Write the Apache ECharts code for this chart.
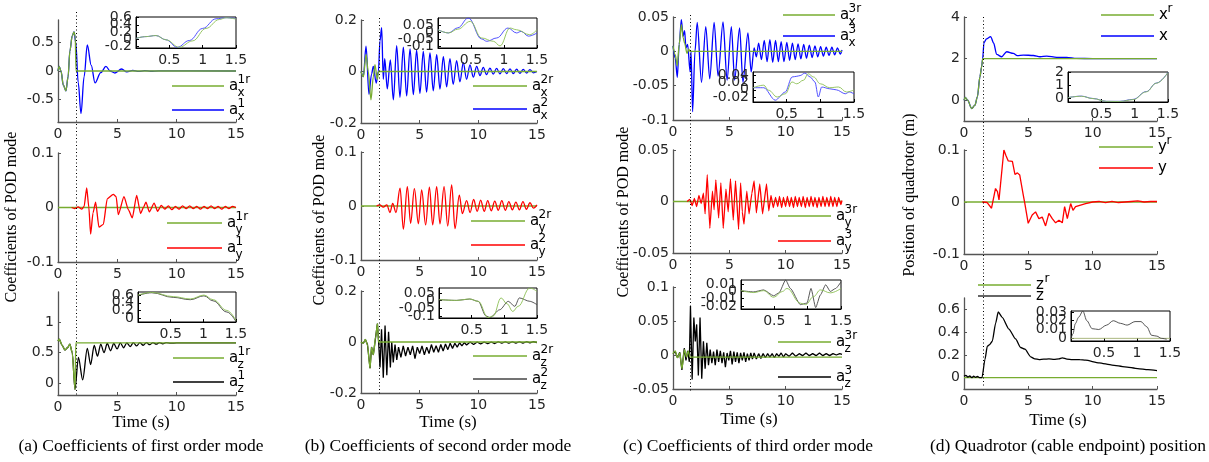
<!DOCTYPE html>
<html><head><meta charset="utf-8">
<script src="https://cdn.jsdelivr.net/npm/echarts@6/dist/echarts.min.js"></script>
<style>html,body{margin:0;padding:0;background:#fff}#c{width:1209px;height:462px}</style>
</head><body><div id="c"></div>
<script>
// ---------- tick labels ----------
const tTicks = [0, 5, 10, 15];
const insetTTicks = [0.5, 1, 1.5];
const yTicksA1 = [-0.5, 0, 0.5], yTicksA2 = [-0.1, 0, 0.1], yTicksA3 = [0, 0.5, 1];
const yTicksB1 = [-0.2, 0, 0.2], yTicksB2 = [-0.1, 0, 0.1], yTicksB3 = [-0.2, 0, 0.2];
const yTicksC1 = [-0.1, -0.05, 0, 0.05], yTicksC2 = [-0.05, 0, 0.05], yTicksC3 = [-0.05, 0, 0.05, 0.1];
const yTicksD1 = [0, 2, 4], yTicksD2 = [-0.1, 0, 0.1], yTicksD3 = [0, 0.2, 0.4, 0.6];
const yTicksA1in = [-0.2, 0, 0.2, 0.4, 0.6], yTicksA3in = [0, 0.2, 0.4, 0.6];
const yTicksB1in = [-0.1, -0.05, 0, 0.05], yTicksB3in = [-0.1, -0.05, 0, 0.05];
const yTicksC1in = [-0.02, 0, 0.02, 0.04], yTicksC3in = [-0.02, -0.01, 0, 0.01];
const yTicksD1in = [0, 1, 2], yTicksD3in = [0, 0.01, 0.02, 0.03];

// ---------- (a) first order mode ----------
const ax1r = [[0,0],[0.1,0.08],[0.25,0.0],[0.45,-0.25],[0.67,-0.35],[0.85,-0.1],[1.0,0.35],[1.2,0.62],[1.35,0.69],[1.45,0.6],[1.52,0],[15,0]];
const ax1 = [[0,0],[0.1,0.08],[0.25,0.0],[0.45,-0.25],[0.67,-0.35],[0.85,-0.1],[1.0,0.35],[1.2,0.62],[1.35,0.69],[1.5,0.5],[1.7,-0.2],[1.94,-0.75],[2.2,-0.1],[2.47,0.46],[2.8,0.1],[3.12,-0.21],[3.6,-0.03],[4.04,0.08],[4.4,0.0],[4.8,-0.035],[5.36,0.035],[5.8,-0.015],[6.3,0.012],[6.8,-0.008],[7.3,0.006],[7.8,-0.004],[8.5,0.002],[15,0]];
const ax1rIn = [[0,0.02],[0.15,0.07],[0.3,0.1],[0.45,-0.02],[0.65,-0.23],[0.85,-0.05],[1.05,0.3],[1.25,0.55],[1.35,0.6],[1.5,0.56]];
const ax1In = [[0,0.02],[0.15,0.07],[0.3,0.1],[0.45,-0.02],[0.62,-0.23],[0.8,-0.04],[1.0,0.3],[1.2,0.57],[1.35,0.6],[1.5,0.58]];
const ay1r = [[0,0],[15,0]];
const ay1 = [[1.15,0],[1.4,-0.002],[1.7,0.001],[2.0,-0.003],[2.2,0.002],[2.42,0.036],[2.6,0.0],[2.75,-0.049],[2.95,-0.01],[3.17,0.01],[3.45,-0.036],[3.82,-0.031],[4.15,0.016],[4.66,0.024],[4.9,0.02],[5.08,-0.013],[5.56,0.02],[5.93,-0.004],[6.26,-0.019],[6.63,0.022],[6.96,-0.011],[7.2,0.0],[7.41,0.01],[7.7,-0.008],[8.1,0.008],[8.4,-0.007],[8.7,0.004],[9.0,-0.003],[9.3,0.003],[9.6,-0.004],[9.9,0.002],[10.2,-0.003],[10.5,0.003],[10.8,-0.002],[11.1,0.003],[11.4,-0.002],[11.7,0.002],[12.0,-0.003],[12.3,0.002],[12.6,-0.002],[12.9,0.003],[13.2,-0.002],[13.5,0.002],[13.8,-0.003],[14.1,0.002],[14.4,-0.002],[14.7,0.002],[15,0]];
const az1r = [[0,0.69],[0.1,0.72],[0.35,0.62],[0.59,0.54],[0.8,0.58],[1.0,0.64],[1.2,0.5],[1.43,-0.11],[1.5,0.66],[15,0.66]];
const az1 = [[0,0.69],[0.1,0.72],[0.35,0.62],[0.59,0.54],[0.8,0.58],[1.0,0.64],[1.2,0.5],[1.43,-0.11],[1.72,0.42],[2.08,0.05],[2.47,0.57],[2.75,0.3],[3.05,0.62],[3.33,0.44],[3.6,0.64],[3.88,0.5],[4.15,0.65],[4.43,0.53],[4.7,0.65],[4.98,0.56],[5.25,0.66],[5.53,0.58],[5.8,0.66],[6.08,0.6],[6.35,0.665],[6.63,0.61],[6.9,0.665],[7.18,0.62],[7.45,0.665],[7.73,0.63],[8.0,0.665],[8.28,0.64],[8.55,0.665],[8.83,0.645],[9.1,0.665],[9.5,0.655],[10,0.66],[15,0.66]];
const az1rIn = [[0,0.6],[0.21,0.67],[0.54,0.56],[0.8,0.5],[1.01,0.6],[1.15,0.48],[1.36,0.2],[1.5,-0.06]];
const az1In = [[0,0.59],[0.21,0.66],[0.54,0.54],[0.8,0.48],[1.01,0.58],[1.15,0.45],[1.36,0.16],[1.5,-0.09]];

// ---------- (b) second order mode ----------
const bx2r = [[0,0],[0.2,-0.02],[0.43,0.066],[0.62,0.0],[0.85,-0.11],[1.05,-0.02],[1.19,0.027],[1.39,-0.03],[1.5,0],[15,0]];
const bx2 = [[0,0],[0.2,-0.02],[0.43,0.098],[0.68,-0.089],[0.9,-0.01],[1.05,0.02],[1.3,-0.045],[1.48,0],[1.62,0.12],[1.76,0.17],[1.9,-0.03],[2.02,0.05],[2.24,-0.067],[2.5,0.045],[2.76,-0.11],[3.04,0.1],[3.32,-0.1],[3.61,0.095],[3.89,-0.095],[4.18,0.088],[4.46,-0.09],[4.74,0.083],[5.02,-0.085],[5.31,0.078],[5.59,-0.08],[5.88,0.072],[6.16,-0.075],[6.45,0.065],[6.73,-0.068],[7.02,0.058],[7.3,-0.06],[7.58,0.05],[7.86,-0.05],[8.15,0.042],[8.43,-0.04],[8.72,0.034],[9.0,-0.03],[9.29,0.026],[9.57,-0.022],[9.86,0.02],[10.14,-0.016],[10.42,0.016],[10.7,-0.012],[10.99,0.013],[11.27,-0.01],[11.56,0.012],[11.84,-0.009],[12.13,0.011],[12.41,-0.008],[12.7,0.01],[12.98,-0.008],[13.26,0.009],[13.54,-0.007],[13.83,0.008],[14.11,-0.006],[14.4,0.007],[14.68,-0.005],[15,0]];
const bx2rIn = [[0,0.016],[0.16,-0.007],[0.3,0.02],[0.49,0.076],[0.66,-0.043],[0.84,-0.067],[0.94,-0.1],[1.09,0.028],[1.19,0.016],[1.39,-0.02],[1.5,0.016]];
const bx2In = [[0,0.016],[0.16,-0.007],[0.3,0.03],[0.46,0.1],[0.66,-0.05],[0.74,-0.067],[0.89,-0.043],[1.06,0.028],[1.19,-0.007],[1.26,0.004],[1.37,-0.03],[1.5,-0.007]];
const by2r = [[0,0],[15,0]];
const by2 = [[1.33,0],[1.6,0.002],[1.9,-0.002],[2.2,0.002],[2.47,-0.012],[2.7,0.005],[2.98,-0.012],[3.33,0.033],[3.61,-0.043],[3.95,0.036],[4.23,-0.032],[4.55,0.032],[4.89,-0.033],[5.17,0.03],[5.51,-0.035],[5.83,0.035],[6.11,-0.035],[6.45,0.036],[6.73,-0.033],[7.08,0.036],[7.39,-0.037],[7.73,0.039],[8.01,-0.042],[8.38,0.02],[8.64,-0.014],[9.0,0.01],[9.3,-0.012],[9.6,0.012],[9.9,-0.01],[10.2,0.011],[10.5,-0.01],[10.8,0.01],[11.1,-0.009],[11.4,0.009],[11.7,-0.008],[12.0,0.01],[12.3,-0.008],[12.6,0.008],[12.9,-0.007],[13.2,0.007],[13.5,-0.007],[13.8,0.008],[14.1,-0.006],[14.4,0.006],[14.7,-0.004],[15,0.002]];
const bz2r = [[0,0],[0.2,-0.005],[0.37,0.01],[0.55,-0.01],[0.77,-0.103],[0.9,-0.02],[1.05,-0.05],[1.25,0.02],[1.4,0.072],[1.5,0],[15,0]];
const bz2 = [[0,0],[0.2,-0.005],[0.37,0.01],[0.55,-0.01],[0.77,-0.103],[0.9,-0.02],[1.05,-0.05],[1.25,0.02],[1.4,0.072],[1.5,0.0],[1.62,-0.1],[1.75,0.05],[1.9,-0.14],[2.05,0.065],[2.2,-0.13],[2.35,0.04],[2.5,-0.1],[2.62,0.0],[2.75,-0.08],[2.9,-0.01],[3.05,-0.07],[3.2,-0.02],[3.4,-0.06],[3.6,-0.015],[3.8,-0.055],[4.0,-0.02],[4.2,-0.05],[4.4,-0.015],[4.6,-0.065],[4.8,-0.02],[5.0,-0.045],[5.2,-0.015],[5.4,-0.05],[5.6,-0.02],[5.8,-0.045],[6.0,-0.01],[6.2,-0.04],[6.4,-0.015],[6.6,-0.04],[6.8,-0.01],[7.0,-0.035],[7.2,-0.008],[7.4,-0.03],[7.6,-0.005],[7.8,-0.025],[8.0,-0.005],[8.2,-0.02],[8.4,-0.003],[8.6,-0.015],[8.8,-0.002],[9.0,-0.012],[9.3,0.0],[9.6,-0.01],[9.9,0.0],[10.2,-0.008],[10.5,0.0],[10.8,-0.007],[11.1,0.0],[11.4,-0.006],[11.7,0.001],[12.0,-0.005],[12.3,0.001],[12.6,-0.005],[12.9,0.001],[13.2,-0.004],[13.5,0.001],[13.8,-0.004],[14.1,0.001],[14.4,-0.003],[14.7,0.001],[15,-0.002]];
const bz2rIn = [[0,0.007],[0.27,0.002],[0.47,0.011],[0.6,-0.004],[0.75,-0.11],[0.83,-0.1],[0.95,0.018],[1.04,-0.02],[1.13,-0.07],[1.21,-0.037],[1.39,0.083],[1.5,0.06]];
const bz2In = [[0,0.007],[0.27,0.002],[0.47,0.011],[0.6,-0.004],[0.72,-0.1],[0.78,-0.11],[0.93,-0.059],[1.06,-0.004],[1.16,-0.037],[1.23,0.018],[1.39,-0.004],[1.5,-0.026]];

// ---------- (c) third order mode ----------
const cx3r = [[0,0.008],[0.2,-0.005],[0.38,-0.021],[0.55,0.01],[0.74,0.039],[0.9,0.02],[1.03,0.012],[1.24,-0.003],[1.4,0.003],[1.5,0],[15,0]];
const cx3 = [[0,0.008],[0.2,-0.01],[0.38,-0.038],[0.55,0.01],[0.74,0.046],[0.9,0.022],[1.03,0.03],[1.15,0.005],[1.3,0.01],[1.52,-0.03],[1.6,0.0],[1.74,-0.088],[1.95,0.0],[2.15,0.042],[2.53,-0.045],[2.91,0.036],[3.26,-0.04],[3.65,0.042],[4.0,-0.036],[4.44,0.043],[4.8,-0.042],[5.18,0.036],[5.47,-0.042],[5.91,0.034],[6.21,-0.045],[6.65,0.027],[6.94,-0.03],[7.2,0.005],[7.4,-0.008],[7.6,0.012],[7.85,-0.012],[8.1,0.016],[8.35,-0.015],[8.6,0.017],[8.85,-0.016],[9.1,0.016],[9.35,-0.015],[9.6,0.014],[9.85,-0.015],[10.1,0.013],[10.35,-0.013],[10.6,0.012],[10.85,-0.012],[11.1,0.011],[11.35,-0.011],[11.6,0.01],[11.85,-0.01],[12.1,0.009],[12.35,-0.009],[12.6,0.008],[12.85,-0.008],[13.1,0.007],[13.35,-0.007],[13.6,0.006],[13.85,-0.006],[14.1,0.006],[14.35,-0.005],[14.6,0.005],[14.85,-0.004],[15,0.002]];
const cx3rIn = [[0,0.006],[0.16,0.013],[0.23,-0.001],[0.36,-0.02],[0.48,-0.011],[0.58,0.022],[0.65,0.017],[0.75,0.027],[0.82,0.045],[0.9,0.036],[1.0,0.017],[1.14,0.006],[1.27,0.008],[1.39,-0.006],[1.5,0.0]];
const cx3In = [[0,0.006],[0.16,0.006],[0.33,-0.029],[0.48,-0.006],[0.58,0.036],[0.65,0.038],[0.7,0.04],[0.77,0.047],[0.85,0.036],[0.92,0.022],[0.97,-0.02],[1.02,0.008],[1.14,0.003],[1.24,0.0],[1.37,-0.011],[1.43,-0.006],[1.5,-0.011]];
const cy3r = [[0,0],[15,0]];
const cy3 = [[1.25,0],[1.5,0.002],[1.7,-0.004],[1.9,0.003],[2.1,-0.005],[2.3,0.006],[2.5,-0.002],[2.7,0.008],[2.85,-0.012],[3.04,0.026],[3.27,-0.026],[3.5,0.01],[3.65,-0.008],[3.8,0.021],[4.05,-0.016],[4.25,0.018],[4.46,-0.026],[4.7,0.012],[4.9,-0.01],[5.1,0.022],[5.35,-0.018],[5.55,0.02],[5.82,-0.027],[6.0,0.018],[6.15,-0.01],[6.3,-0.022],[6.55,0.01],[6.75,-0.012],[7.0,0.008],[7.2,0.02],[7.4,-0.011],[7.7,0.017],[7.95,-0.012],[8.3,0.017],[8.5,-0.009],[8.7,0.006],[8.9,-0.006],[9.1,0.004],[9.3,-0.005],[9.45,0.005],[9.65,-0.006],[9.8,0.004],[10.0,-0.005],[10.15,0.005],[10.35,-0.005],[10.5,0.004],[10.7,-0.006],[10.85,0.005],[11.05,-0.005],[11.2,0.004],[11.4,-0.005],[11.55,0.005],[11.75,-0.006],[11.9,0.004],[12.1,-0.005],[12.25,0.005],[12.45,-0.005],[12.6,0.004],[12.8,-0.006],[12.95,0.004],[13.15,-0.005],[13.3,0.005],[13.5,-0.005],[13.65,0.004],[13.85,-0.005],[14.0,0.005],[14.2,-0.005],[14.35,0.004],[14.55,-0.005],[14.7,0.004],[14.9,-0.003],[15,0.001]];
const cz3r = [[0,0.002],[0.2,0.006],[0.4,-0.004],[0.6,0.003],[0.79,-0.02],[1.02,0.008],[1.2,-0.003],[1.35,0.006],[1.5,-0.003],[15,-0.003]];
const cz3 = [[0,0.002],[0.2,0.005],[0.4,-0.004],[0.6,0.004],[0.79,-0.022],[1.0,0.01],[1.15,-0.008],[1.3,0.006],[1.45,-0.01],[1.55,0.072],[1.7,-0.036],[1.85,0.055],[1.98,0.02],[2.1,0.045],[2.25,-0.03],[2.4,0.055],[2.55,-0.035],[2.7,0.02],[2.85,-0.02],[3.0,0.018],[3.15,-0.015],[3.3,0.008],[3.45,-0.012],[3.6,0.005],[3.75,-0.015],[3.9,0.008],[4.05,-0.01],[4.2,0.006],[4.35,-0.012],[4.5,0.004],[4.65,-0.018],[4.8,0.003],[4.95,-0.008],[5.1,0.006],[5.25,-0.014],[5.4,0.005],[5.55,-0.01],[5.7,0.004],[5.85,-0.012],[6.0,0.003],[6.15,-0.008],[6.3,0.004],[6.45,-0.01],[6.6,0.002],[6.75,-0.008],[6.9,0.003],[7.05,-0.006],[7.2,0.003],[7.4,-0.006],[7.6,0.002],[7.8,-0.005],[8.0,0.002],[8.2,-0.004],[8.4,0.002],[8.6,-0.003],[8.8,0.002],[9.0,-0.004],[9.2,0.002],[9.4,-0.002],[9.6,0.003],[9.8,-0.003],[10.0,0.002],[10.3,-0.002],[10.6,0.003],[10.9,-0.002],[11.2,0.002],[11.5,-0.001],[11.8,0.003],[12.1,-0.001],[12.4,0.002],[12.7,-0.001],[13.0,0.003],[13.3,-0.001],[13.6,0.002],[13.9,-0.001],[14.2,0.002],[14.5,0.0],[14.8,0.002],[15,0.001]];
const cz3rIn = [[0,0.0011],[0.19,-0.0016],[0.34,0.001],[0.49,-0.008],[0.62,-0.0002],[0.69,0.004],[0.89,-0.016],[0.97,-0.018],[1.09,-0.007],[1.19,0.002],[1.34,-0.002],[1.5,0.004]];
const cz3In = [[0,0.001],[0.19,-0.0007],[0.34,0.002],[0.49,-0.006],[0.57,-0.002],[0.67,0.0155],[0.74,0.004],[0.89,-0.018],[0.99,-0.016],[1.05,0.004],[1.12,-0.022],[1.19,-0.005],[1.27,0.009],[1.34,0.0],[1.42,0.004],[1.5,0.013]];

// ---------- (d) quadrotor position ----------
const posXr = [[0,0],[0.1,0.13],[0.28,0],[0.6,-0.4],[0.85,-0.24],[1.04,0.16],[1.24,1.13],[1.37,1.6],[1.45,1.98],[1.5,2],[15,2]];
const posX = [[0,0],[0.1,0.13],[0.28,0],[0.6,-0.4],[0.85,-0.24],[1.04,0.16],[1.24,1.13],[1.37,1.6],[1.45,2.0],[1.55,2.76],[1.75,2.95],[2.07,3.06],[2.3,2.75],[2.54,2.2],[2.93,2.09],[3.32,2.33],[3.83,2.25],[4.14,2.14],[4.61,2.17],[5.39,2.15],[5.91,2.09],[6.43,2.12],[7.2,2.06],[7.98,2.06],[8.75,2.01],[10,2.0],[15,2.0]];
const posXrIn = [[0,0.04],[0.2,0.14],[0.375,-0.04],[0.575,-0.25],[0.775,-0.26],[0.975,-0.12],[1.175,0.48],[1.325,1.14],[1.5,1.97]];
const posXIn = [[0,0.04],[0.2,0.15],[0.375,-0.03],[0.575,-0.25],[0.775,-0.25],[0.975,-0.1],[1.175,0.5],[1.325,1.15],[1.5,1.98]];
const posYr = [[0,0],[15,0]];
const posY = [[1.42,0],[1.8,-0.001],[2.14,-0.012],[2.45,0.026],[2.6,0.02],[2.72,0.004],[3.1,0.1],[3.25,0.09],[3.44,0.079],[3.76,0.078],[3.96,0.053],[4.15,0.056],[4.33,0.052],[4.6,0.014],[4.73,-0.003],[4.99,-0.041],[5.3,-0.025],[5.56,-0.019],[5.82,-0.032],[6.08,-0.029],[6.34,-0.046],[6.6,-0.022],[6.86,-0.032],[7.12,-0.04],[7.38,-0.035],[7.64,-0.04],[7.82,-0.009],[8.03,-0.032],[8.29,-0.003],[8.47,-0.016],[8.67,-0.009],[9.06,-0.006],[9.45,-0.003],[10,0.0],[10.5,0.001],[11,-0.001],[11.5,0.001],[12,-0.001],[12.5,0.0],[13,0.001],[13.5,0.002],[14,0.0],[14.5,0.001],[15,0.001]];
const posZr = [[0,0],[15,0]];
const posZ = [[0,0.012],[0.15,0.02],[0.3,0.005],[0.45,0.015],[0.6,0.0],[0.75,0.012],[0.9,0.003],[1.05,0.01],[1.2,0.0],[1.4,0.0],[1.63,0.16],[1.81,0.276],[1.99,0.29],[2.2,0.32],[2.46,0.48],[2.66,0.577],[2.97,0.53],[3.49,0.427],[4.01,0.34],[4.4,0.265],[4.74,0.25],[5.18,0.183],[5.5,0.165],[5.83,0.159],[6.2,0.162],[6.6,0.165],[7.0,0.16],[7.38,0.165],[7.64,0.174],[8.0,0.163],[8.41,0.159],[9.0,0.158],[9.45,0.153],[10.5,0.13],[11.5,0.11],[12.5,0.095],[13.5,0.08],[14.3,0.07],[15,0.062]];
const posZrIn = [[0,0],[1.5,0]];
const posZIn = [[0,0.0],[0.03,0.005],[0.065,0.0166],[0.116,0.024],[0.18,0.031],[0.24,0.02],[0.32,0.011],[0.42,0.01],[0.54,0.015],[0.64,0.02],[0.75,0.017],[0.85,0.015],[0.97,0.019],[1.06,0.019],[1.15,0.013],[1.22,0.0035],[1.3,0.0025],[1.37,0.0],[1.45,-0.001]];

// ---------- layout & style ----------
const GREEN = '#77ac30', BLUE = '#0000ff', RED = '#ff0000', BLACK = '#000000';
const IGREEN = '#8cbf55', IBLUE = '#4040ff', IBLACK = '#444444';
const SANS = '"DejaVu Sans", sans-serif';
const SERIF = '"Liberation Serif", "Times New Roman", serif';

const panels = [
  {l:58, t:20, w:178, h:102, min:-0.9, max:0.9, yt:yTicksA1, s:[[ax1,BLUE,0.35],[ax1r,GREEN,0.3]]},
  {l:58, t:153, w:178, h:109, min:-0.1, max:0.1, yt:yTicksA2, s:[[ay1r,GREEN,0],[ay1,RED,0.2]]},
  {l:58, t:292, w:178, h:103, min:-0.2, max:1.5, yt:yTicksA3, s:[[az1,BLACK,0.3],[az1r,GREEN,0.2]]},
  {l:361, t:20, w:176, h:103, min:-0.2, max:0.2, yt:yTicksB1, s:[[bx2,BLUE,0.35],[bx2r,GREEN,0.3]]},
  {l:361, t:152, w:176, h:108, min:-0.1, max:0.1, yt:yTicksB2, s:[[by2r,GREEN,0],[by2,RED,0.35]]},
  {l:361, t:291, w:176, h:102, min:-0.2, max:0.2, yt:yTicksB3, s:[[bz2,BLACK,0],[bz2r,GREEN,0.3]]},
  {l:673, t:17, w:169, h:103, min:-0.1, max:0.05, yt:yTicksC1, s:[[cx3,BLUE,0.3],[cx3r,GREEN,0.3]]},
  {l:673, t:150, w:169, h:103, min:-0.05, max:0.05, yt:yTicksC2, s:[[cy3r,GREEN,0],[cy3,RED,0.1]]},
  {l:673, t:287, w:169, h:102, min:-0.05, max:0.1, yt:yTicksC3, s:[[cz3,BLACK,0],[cz3r,GREEN,0.3]]},
  {l:964, t:17, w:193, h:104, min:-1, max:4, yt:yTicksD1, s:[[posX,BLUE,0.3],[posXr,GREEN,0.3]]},
  {l:964, t:150, w:193, h:104, min:-0.1, max:0.1, yt:yTicksD2, s:[[posYr,GREEN,0],[posY,RED,0]]},
  {l:964, t:298, w:193, h:91, min:-0.1, max:0.7, yt:yTicksD3, s:[[posZr,GREEN,0],[posZ,BLACK,0.2]]}
];
const insets = [
  {l:136, t:17, w:100, h:31, min:-0.25, max:0.62, yt:yTicksA1in, s:[[ax1In,IBLUE,0.4],[ax1rIn,IGREEN,0.4]]},
  {l:138, t:292, w:98, h:30, min:-0.1, max:0.68, yt:yTicksA3in, s:[[az1In,IBLACK,0.4],[az1rIn,IGREEN,0.4]]},
  {l:438, t:18, w:99, h:30, min:-0.115, max:0.1, yt:yTicksB1in, s:[[bx2In,IBLUE,0.4],[bx2rIn,IGREEN,0.4]]},
  {l:439, t:288, w:98, h:30, min:-0.113, max:0.083, yt:yTicksB3in, s:[[bz2In,IBLACK,0.3],[bz2rIn,IGREEN,0.4]]},
  {l:753, t:72, w:101, h:30, min:-0.034, max:0.05, yt:yTicksC1in, s:[[cx3In,IBLUE,0.3],[cx3rIn,IGREEN,0.4]]},
  {l:741, t:280, w:100, h:29, min:-0.024, max:0.0155, yt:yTicksC3in, s:[[cz3In,IBLACK,0.2],[cz3rIn,IGREEN,0.4]]},
  {l:1068, t:72, w:100, h:30, min:-0.3, max:2, yt:yTicksD1in, s:[[posXIn,IBLUE,0.4],[posXrIn,IGREEN,0.4]]},
  {l:1071, t:311, w:99, h:30, min:-0.003, max:0.031, yt:yTicksD3in, s:[[posZrIn,'#a0b070',0],[posZIn,IBLACK,0.3]]}
];

const grids = [], xAxes = [], yAxes = [], series = [];
const lab = {color:'#262626', fontSize:14, fontFamily:SANS, hideOverlap:false, showMinLabel:true, showMaxLabel:true};
function addPanel(p, inset) {
  const gi = grids.length;
  const axCol = inset ? '#000' : '#555';
  grids.push(inset
    ? {left:p.l, top:p.t, width:p.w, height:p.h, show:true, borderColor:'#000', borderWidth:1, backgroundColor:'#fff', z:3}
    : {left:p.l, top:p.t, width:p.w, height:p.h});
  const xt = inset ? insetTTicks : tTicks;
  xAxes.push({type:'value', gridIndex:gi, min:0, max: inset ? 1.5 : 15, z: inset ? 4 : 0,
    axisLine:{show:true, onZero:false, lineStyle:{color:axCol, width: inset ? 1 : 1.3}},
    axisTick:{show:true, inside:true, length:3, customValues:xt, lineStyle:{color:axCol}},
    axisLabel:Object.assign({margin:5, customValues:xt}, lab),
    splitLine:{show:false}});
  const yi = yAxes.length;
  yAxes.push({type:'value', gridIndex:gi, position:'left', offset:0, min:p.min, max:p.max, z: inset ? 4 : 0,
    axisLine:{show:true, onZero:false, lineStyle:{color:axCol, width: inset ? 1 : 1.3}},
    axisTick:{show:true, inside:true, length:3, customValues:p.yt, lineStyle:{color:axCol}},
    axisLabel: inset ? {show:false} : Object.assign({margin:4, customValues:p.yt}, lab),
    splitLine:{show:false}});
  if (inset) {
    // crowded inset labels: one label per companion axis so none are dropped (they overlap, as in the original)
    p.yt.forEach(v => yAxes.push({type:'value', gridIndex:gi, position:'left', offset:0, min:p.min, max:p.max, z:4,
      axisLine:{show:false, onZero:false}, axisTick:{show:false}, splitLine:{show:false},
      axisLabel:Object.assign({margin:4, customValues:[v]}, lab)}));
  }
  p.s.forEach(([data, color, sm]) => series.push({
    type:'line', xAxisIndex:gi, yAxisIndex:yi, data, showSymbol:false, symbol:'none',
    smooth: sm || false, smoothMonotone:'x', silent:true, animation:false, clip:true,
    z: inset ? 5 : 2,
    lineStyle:{color, width: inset ? 0.9 : 1.3}
  }));
}
panels.forEach(p => addPanel(p, false));
insets.forEach(p => addPanel(p, true));

// ---------- text & legend graphics ----------
const graphic = [];
function txt(text, x, y, font, align) {
  const a = align || 'left';
  return {type:'text', x, y, silent:true, z:100,
    style:{text, font, fill:'#000', align:a, verticalAlign:'middle', textAlign:a, textVerticalAlign:'middle'}};
}
function leg(x1, x2, y, color, base, sup, sub) {
  graphic.push({type:'line', silent:true, z:100, shape:{x1, y1:y, x2, y2:y}, style:{stroke:color, lineWidth:1.3}});
  const tx = x2 + 5;
  graphic.push(txt(base, tx, y, '15px ' + SANS));
  if (sup) graphic.push(txt(sup, tx + 8.5, y - 6, '12px ' + SANS));
  if (sub) graphic.push(txt(sub, tx + 8.5, y + 7, '12px ' + SANS));
}
leg(172,224,86,GREEN,'a','1r','x');  leg(172,224,110,BLUE,'a','1','x');
leg(167,222,223,GREEN,'a','1r','y'); leg(167,222,248,RED,'a','1','y');
leg(173,224,358,GREEN,'a','1r','z'); leg(173,224,382,BLACK,'a','1','z');
leg(473,527,86,GREEN,'a','2r','x');  leg(473,527,109,BLUE,'a','2','x');
leg(471,525,221,GREEN,'a','2r','y'); leg(471,525,245,RED,'a','2','y');
leg(473,527,356,GREEN,'a','2r','z'); leg(473,527,379,'#444','a','2','z');
leg(783,835,15,GREEN,'a','3r','x');  leg(783,835,36,BLUE,'a','3','x');
leg(778,831,216,GREEN,'a','3r','y'); leg(778,831,241,RED,'a','3','y');
leg(778,831,342,GREEN,'a','3r','z'); leg(778,831,377,BLACK,'a','3','z');
leg(1101,1154,15,GREEN,'x','r',null); leg(1101,1154,36,BLUE,'x',null,null);
leg(1099,1153,147,GREEN,'y','r',null); leg(1099,1153,168,RED,'y',null,null);
leg(978,1031,285,GREEN,'z','r',null); leg(978,1031,296,'#333','z',null,null);

const captions = [['(a) Coefficients of first order mode',141],['(b) Coefficients of second order mode',438],['(c) Coefficients of third order mode',748],['(d) Quadrotor (cable endpoint) position',1068]];
captions.forEach(([t,x]) => graphic.push(txt(t, x, 446, '17.5px ' + SERIF, 'center')));
const timeLabels = [[141,423],[448,423],[749,420],[1058,421]];
timeLabels.forEach(([x,y]) => graphic.push(txt('Time (s)', x, y, '17px ' + SERIF, 'center')));
const yTitles = [['Coefficients of POD mode',12,217],['Coefficients of POD mode',320,220],['Coefficients of POD mode',624,212],['Position of quadrotor (m)',910,195]];
yTitles.forEach(([t,x,y]) => { const g = txt(t, x, y, '16px ' + SERIF, 'center'); g.rotation = Math.PI/2; graphic.push(g); });

const chart = echarts.init(document.getElementById('c'), null, {renderer:'canvas'});
chart.setOption({animation:false, backgroundColor:'#fff', grid:grids, xAxis:xAxes, yAxis:yAxes, series, graphic});

// switch instant (t = 1.5 s) marked across each column, positioned through the axis scale
const SWITCH_T = 1.5;
const dotCols = [[0,12,397],[3,18,394],[6,15,393],[9,17,388]];
const dots = dotCols.map(([ai,y1,y2]) => {
  const x = Math.round(chart.convertToPixel({xAxisIndex:ai}, SWITCH_T)) + 0.5;
  return {type:'line', silent:true, z:90, shape:{x1:x, y1, x2:x, y2}, style:{stroke:'#000', lineWidth:1, lineDash:[1,2.5]}};
});
chart.setOption({graphic: graphic.concat(dots)});
</script></body></html>
